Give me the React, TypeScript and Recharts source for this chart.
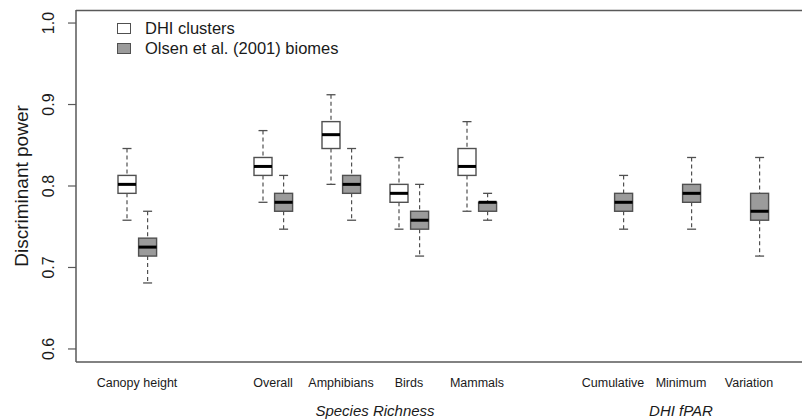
import React from 'react';
import { ComposedChart, Bar, XAxis, YAxis } from 'recharts';

const categories = ['Canopy height', 'gap1', 'Overall', 'Amphibians', 'Birds', 'Mammals', 'gap2', 'Cumulative', 'Minimum', 'Variation'];

const seriesNames = ['DHI clusters', 'Olsen et al. (2001) biomes'];

// DHI clusters (white boxes)
const dhiMin = [0.758, null, 0.780, 0.802, 0.747, 0.769, null, null, null, null];
const dhiQ1 = [0.791, null, 0.813, 0.846, 0.780, 0.813, null, null, null, null];
const dhiMed = [0.802, null, 0.824, 0.863, 0.791, 0.824, null, null, null, null];
const dhiQ3 = [0.813, null, 0.835, 0.879, 0.802, 0.846, null, null, null, null];
const dhiMax = [0.846, null, 0.868, 0.912, 0.835, 0.879, null, null, null, null];

// Olsen et al. (2001) biomes (grey boxes)
const olsMin = [0.681, null, 0.747, 0.758, 0.714, 0.758, null, 0.747, 0.747, 0.714];
const olsQ1 = [0.714, null, 0.769, 0.791, 0.747, 0.769, null, 0.769, 0.780, 0.758];
const olsMed = [0.725, null, 0.780, 0.802, 0.758, 0.780, null, 0.780, 0.791, 0.769];
const olsQ3 = [0.736, null, 0.791, 0.813, 0.769, 0.780, null, 0.791, 0.802, 0.791];
const olsMax = [0.769, null, 0.813, 0.846, 0.802, 0.791, null, 0.813, 0.835, 0.835];

const yTicks = [0.6, 0.7, 0.8, 0.9, 1.0];
const yDomain = [0.584, 1.016];

const groupLabels = [
  { anchor: 'Amphibians', text: 'Species Richness', shift: 1 },
  { anchor: 'Minimum', text: 'DHI fPAR', shift: 0 },
];

type Stats = { min: number; q1: number; med: number; q3: number; max: number };

const mk = (a: any[], b: any[], c: any[], d: any[], e: any[], i: number): Stats | null =>
  a[i] == null ? null : { min: a[i], q1: b[i], med: c[i], q3: d[i], max: e[i] };

const data = categories.map((name, i) => ({
  name,
  dhi: mk(dhiMin, dhiQ1, dhiMed, dhiQ3, dhiMax, i),
  olsen: mk(olsMin, olsQ1, olsMed, olsQ3, olsMax, i),
}));

const FONT = '"Liberation Sans", Arial, sans-serif';
const FRAME = '#595959';
const BOXSTROKE = '#505050';
const GREY = '#9b9b9b';

const BoxShape = (props: any) => {
  const { x, y, width, height, payload, statKey, boxFill } = props;
  const s: Stats | null = payload ? payload[statKey] : null;
  if (!s || !isFinite(y) || !isFinite(height) || !isFinite(x)) return <g />;
  const top = Math.min(y, y + height);
  const bot = Math.max(y, y + height);
  const k = (bot - top) / (s.max - s.min);
  const py = (v: number) => top + (s.max - v) * k;
  const cx = x + width / 2;
  const capHalf = width / 4;
  return (
    <g>
      <line x1={cx} x2={cx} y1={py(s.max)} y2={py(s.q3)} stroke={BOXSTROKE} strokeWidth={1.2} strokeDasharray="4 3" />
      <line x1={cx} x2={cx} y1={py(s.q1)} y2={py(s.min)} stroke={BOXSTROKE} strokeWidth={1.2} strokeDasharray="4 3" />
      <line x1={cx - capHalf} x2={cx + capHalf} y1={py(s.max)} y2={py(s.max)} stroke={BOXSTROKE} strokeWidth={1.3} />
      <line x1={cx - capHalf} x2={cx + capHalf} y1={py(s.min)} y2={py(s.min)} stroke={BOXSTROKE} strokeWidth={1.3} />
      <rect x={x} y={py(s.q3)} width={width} height={py(s.q1) - py(s.q3)} fill={boxFill} stroke={BOXSTROKE} strokeWidth={1.4} />
      <line x1={x} x2={x + width} y1={py(s.med)} y2={py(s.med)} stroke="#000" strokeWidth={3} />
    </g>
  );
};

const XTick = (props: any) => {
  const { x, y, payload } = props;
  const label: string = payload.value;
  const half = payload.offset || 34;
  const grp = groupLabels.find((g) => g.anchor === label);
  return (
    <g>
      {!label.startsWith('gap') && (
        <text x={x} y={y + 25} textAnchor="middle" fontSize={12.5} fontFamily={FONT} fill="#1a1a1a">
          {label}
        </text>
      )}
      {grp && (
        <text x={x + grp.shift * half} y={y + 54} textAnchor="middle" fontSize={15} fontStyle="italic" fontFamily={FONT} fill="#1a1a1a">
          {grp.text}
        </text>
      )}
    </g>
  );
};

const YTick = (props: any) => {
  const { x, y, payload } = props;
  const tx = x - 14;
  return (
    <text x={tx} y={y} transform={`rotate(-90, ${tx}, ${y})`} textAnchor="middle" fontSize={16} fontFamily={FONT} fill="#1a1a1a">
      {payload.value.toFixed(1)}
    </text>
  );
};

const YLabel = (props: any) => {
  const vb = props.viewBox || { x: 16, y: 12, width: 60, height: 350 };
  const cx = 28;
  const cy = vb.y + vb.height / 2;
  return (
    <text x={cx} y={cy} transform={`rotate(-90, ${cx}, ${cy})`} textAnchor="middle" fontSize={19} fontFamily={FONT} fill="#1a1a1a">
      Discriminant power
    </text>
  );
};

const LegendBox = () => (
  <div style={{ position: 'absolute', top: 18, left: 117, width: 300, fontFamily: FONT, fontSize: 16.5, color: '#1a1a1a' }}>
    {seriesNames.map((n, i) => (
      <div key={n} style={{ position: 'relative', height: 20, lineHeight: '20px', whiteSpace: 'nowrap' }}>
        <span
          style={{
            position: 'absolute',
            left: 0,
            top: 5,
            width: 12,
            height: 8.5,
            background: i === 0 ? '#fff' : GREY,
            border: `1.2px solid ${BOXSTROKE}`,
          }}
        />
        <span style={{ position: 'absolute', left: 28, top: 0 }}>{n}</span>
      </div>
    ))}
  </div>
);

export default function App() {
  return (
    <div style={{ position: 'absolute', left: 0, top: 0, width: 802, height: 420, background: '#fff' }}>
      <ComposedChart
        width={802}
        height={420}
        data={data}
        margin={{ top: 10, right: 0, bottom: 0, left: 16 }}
        barSize={18}
        barGap={2.6}
      >
        <XAxis
          dataKey="name"
          type="category"
          interval={0}
          tickLine={false}
          tickSize={0}
          tickMargin={0}
          height={58}
          padding={{ left: 27, right: 19 }}
          axisLine={{ stroke: FRAME, strokeWidth: 1.5 }}
          tick={<XTick />}
        />
        <YAxis
          type="number"
          domain={yDomain}
          ticks={yTicks}
          allowDataOverflow
          width={60}
          tickSize={8}
          tickMargin={0}
          axisLine={{ stroke: FRAME, strokeWidth: 1.5 }}
          tickLine={{ stroke: FRAME, strokeWidth: 1.2 }}
          tick={<YTick />}
          label={<YLabel />}
        />
        <Bar
          name={seriesNames[0]}
          dataKey={(d: any) => (d.dhi ? [d.dhi.min, d.dhi.max] : null)}
          fill="#fff"
          isAnimationActive={false}
          shape={(p: any) => <BoxShape {...p} statKey="dhi" boxFill="#fff" />}
        />
        <Bar
          name={seriesNames[1]}
          dataKey={(d: any) => (d.olsen ? [d.olsen.min, d.olsen.max] : null)}
          fill={GREY}
          isAnimationActive={false}
          shape={(p: any) => <BoxShape {...p} statKey="olsen" boxFill={GREY} />}
        />
      </ComposedChart>
      <svg
        width={802}
        height={420}
        style={{ position: 'absolute', left: 0, top: 0, pointerEvents: 'none', zIndex: 10 }}
      >
        <line x1={76} x2={802} y1={10.5} y2={10.5} stroke={FRAME} strokeWidth={1.5} />
      </svg>
      <LegendBox />
    </div>
  );
}
